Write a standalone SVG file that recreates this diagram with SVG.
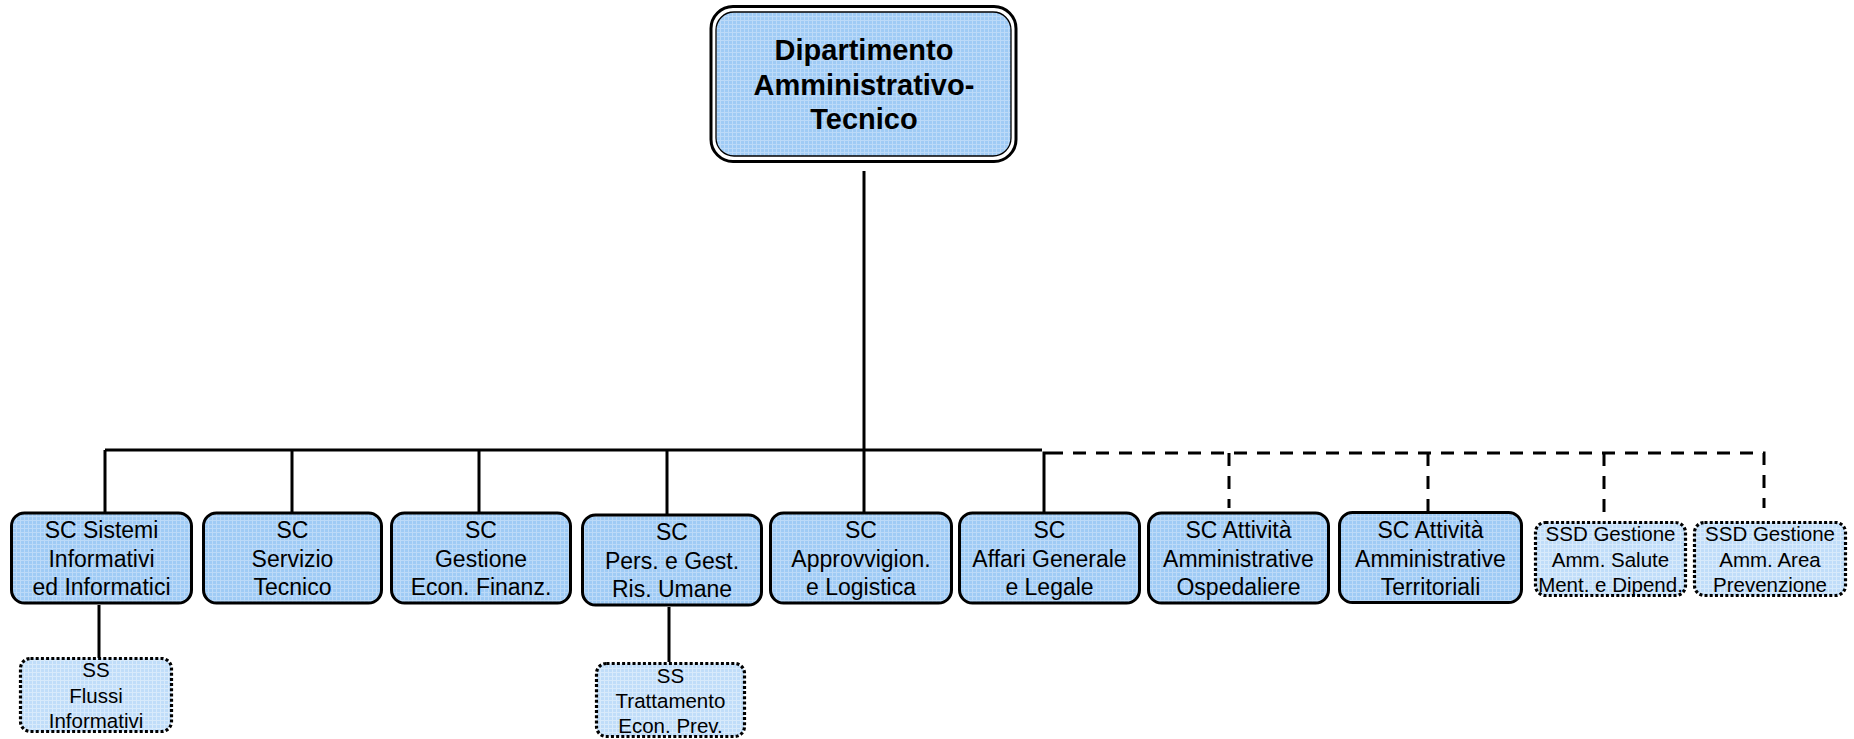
<svg xmlns="http://www.w3.org/2000/svg" width="1854" height="739" viewBox="0 0 1854 739">
<defs>
<pattern id="gridA" width="4" height="4" patternUnits="userSpaceOnUse"><rect width="4" height="4" fill="#9fcbf5"/><path d="M0 0.5H4M0.5 0V4" stroke="#bcdaf8" stroke-width="1"/></pattern>
<pattern id="gridB" width="4" height="4" patternUnits="userSpaceOnUse"><rect width="4" height="4" fill="#c0ddf9"/><path d="M0 0.5H4M0.5 0V4" stroke="#d8eafb" stroke-width="1"/></pattern>
<style>
.box{fill:url(#gridA);stroke:#000;stroke-width:3}
.sub{fill:url(#gridB);stroke:#000;stroke-width:3.2;stroke-dasharray:3 2.2}
.t{font-family:"Liberation Sans",Arial,sans-serif;font-size:23px;fill:#000;text-anchor:middle}
.ts{font-family:"Liberation Sans",Arial,sans-serif;font-size:20.5px;fill:#000;text-anchor:middle}
.tm{font-family:"Liberation Sans",Arial,sans-serif;font-size:29px;font-weight:bold;fill:#000;text-anchor:middle}
.ln{fill:none;stroke:#000;stroke-width:3}
.dl{fill:none;stroke:#000;stroke-width:3;stroke-dasharray:13 10}
</style>
</defs>
<g id="connectors">
<path class="ln" d="M864 171V450M105 450H1042M105 450V512M292 450V512M479 450V512M667 450V514M864 450V512"/>
<path class="ln" d="M1044 512V453H1050"/>
<path class="dl" d="M1050 453H1764V508"/>
<path class="dl" d="M1229 453V508M1428 453V511M1604 453V519"/>
<path class="ln" d="M99 605V658M669 607V662"/>
</g>
<g id="n0">
<rect x="711" y="6.5" width="305" height="155" rx="22" fill="#fff" stroke="#000" stroke-width="3"/>
<rect x="716" y="12" width="295" height="144" rx="18" fill="url(#gridA)" stroke="#000" stroke-width="1.3"/>
<text class="tm" x="864"><tspan x="864" y="60">Dipartimento</tspan><tspan x="864" y="94.5">Amministrativo-</tspan><tspan x="864" y="129">Tecnico</tspan></text>
</g>
<g id="n1"><rect class="box" x="11.5" y="513" width="180" height="90" rx="13"/>
<text class="t"><tspan x="101.5" y="538">SC Sistemi</tspan><tspan x="101.5" y="566.5">Informativi</tspan><tspan x="101.5" y="595">ed Informatici</tspan></text></g>
<g id="n2"><rect class="box" x="203.5" y="513" width="178" height="90" rx="13"/>
<text class="t"><tspan x="292.5" y="538">SC</tspan><tspan x="292.5" y="566.5">Servizio</tspan><tspan x="292.5" y="595">Tecnico</tspan></text></g>
<g id="n3"><rect class="box" x="391.5" y="513" width="179" height="90" rx="13"/>
<text class="t"><tspan x="481" y="538">SC</tspan><tspan x="481" y="566.5">Gestione</tspan><tspan x="481" y="595">Econ. Finanz.</tspan></text></g>
<g id="n4"><rect class="box" x="582.5" y="515" width="179" height="90" rx="13"/>
<text class="t"><tspan x="672" y="540">SC</tspan><tspan x="672" y="568.5">Pers. e Gest.</tspan><tspan x="672" y="597">Ris. Umane</tspan></text></g>
<g id="n5"><rect class="box" x="770.5" y="513" width="181" height="90" rx="13"/>
<text class="t"><tspan x="861" y="538">SC</tspan><tspan x="861" y="566.5">Approvvigion.</tspan><tspan x="861" y="595">e Logistica</tspan></text></g>
<g id="n6"><rect class="box" x="959.5" y="513" width="180" height="90" rx="13"/>
<text class="t"><tspan x="1049.5" y="538">SC</tspan><tspan x="1049.5" y="566.5">Affari Generale</tspan><tspan x="1049.5" y="595">e Legale</tspan></text></g>
<g id="n7"><rect class="box" x="1148.5" y="513" width="180" height="90" rx="13"/>
<text class="t"><tspan x="1238.5" y="538">SC Attività</tspan><tspan x="1238.5" y="566.5">Amministrative</tspan><tspan x="1238.5" y="595">Ospedaliere</tspan></text></g>
<g id="n8"><rect class="box" x="1339.5" y="512.5" width="182" height="90" rx="13"/>
<text class="t"><tspan x="1430.5" y="538">SC Attività</tspan><tspan x="1430.5" y="566.5">Amministrative</tspan><tspan x="1430.5" y="595">Territoriali</tspan></text></g>
<g id="n9"><rect class="sub" x="1535.5" y="522.5" width="150" height="73" rx="10"/>
<text class="ts"><tspan x="1610.5" y="541">SSD Gestione</tspan><tspan x="1610.5" y="567">Amm. Salute</tspan><tspan x="1610.5" y="592">Ment. e Dipend.</tspan></text></g>
<g id="n10"><rect class="sub" x="1694.5" y="522.5" width="151" height="73" rx="10"/>
<text class="ts"><tspan x="1770" y="541">SSD Gestione</tspan><tspan x="1770" y="567">Amm. Area</tspan><tspan x="1770" y="592">Prevenzione</tspan></text></g>
<g id="n11"><rect class="sub" x="20.5" y="658.5" width="151" height="73" rx="10"/>
<text class="ts"><tspan x="96" y="677">SS</tspan><tspan x="96" y="703">Flussi</tspan><tspan x="96" y="728">Informativi</tspan></text></g>
<g id="n12"><rect class="sub" x="596.5" y="663.5" width="148" height="73" rx="10"/>
<text class="ts"><tspan x="670.5" y="683">SS</tspan><tspan x="670.5" y="708">Trattamento</tspan><tspan x="670.5" y="733">Econ. Prev.</tspan></text></g>
</svg>
